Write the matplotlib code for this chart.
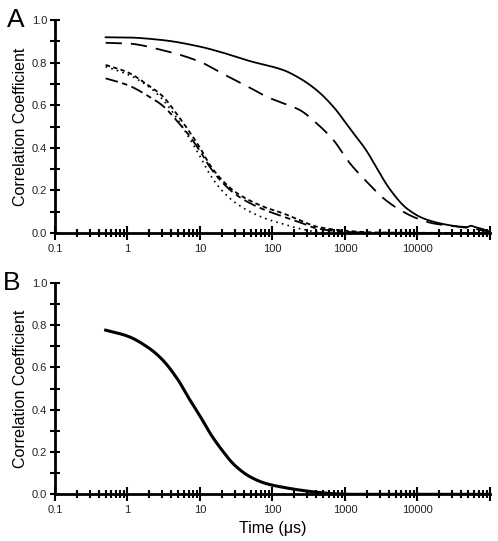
import numpy as np
import matplotlib
matplotlib.use("Agg")
import matplotlib.pyplot as plt
from matplotlib.ticker import LogLocator, FixedLocator, NullFormatter, FixedFormatter

plt.rcParams['font.family'] = ['Liberation Sans', 'DejaVu Sans']

# ---- Panel A data ----
solid_x = [0.5, 1, 3, 10, 20, 49, 141, 239, 406, 690, 1172, 1990, 2735, 4170, 7080, 12000, 22700, 38500, 48000, 55000, 62000, 80000, 100000]
solid_y = [0.919, 0.918, 0.906, 0.875, 0.848, 0.807, 0.765, 0.726, 0.671, 0.593, 0.49, 0.385, 0.305, 0.205, 0.116, 0.069, 0.042, 0.030, 0.028, 0.034, 0.028, 0.018, 0.005]

longdash_x = [0.5, 1, 3, 10, 20, 49, 83, 141, 239, 406, 690, 1172, 1990, 3390, 5760, 9790, 16600, 30000, 60000, 100000]
longdash_y = [0.893, 0.89, 0.859, 0.804, 0.75, 0.682, 0.64, 0.609, 0.577, 0.515, 0.437, 0.327, 0.241, 0.163, 0.108, 0.069, 0.045, 0.033, 0.02, 0.005]

lower_x = [0.5, 1, 2, 3, 5, 7, 10, 14, 20, 30, 49, 83, 141, 239, 406, 1070, 3000, 100000]
shortdash_y = [0.789, 0.755, 0.69, 0.645, 0.55, 0.48, 0.40, 0.315, 0.25, 0.195, 0.152, 0.118, 0.092, 0.06, 0.03, 0.01, 0.002, 0.0]
dotted_y = [0.781, 0.745, 0.685, 0.63, 0.53, 0.45, 0.36, 0.27, 0.20, 0.145, 0.10, 0.066, 0.042, 0.02, 0.006, 0.0, 0.0, 0.0]
dashdot_y = [0.726, 0.695, 0.64, 0.60, 0.52, 0.46, 0.385, 0.305, 0.24, 0.185, 0.14, 0.105, 0.077, 0.05, 0.022, 0.005, 0.001, 0.0]

# ---- Panel B data ----
b_x = [0.5, 1, 2, 3, 5, 7, 10, 14, 20, 30, 49, 83, 141, 239, 406, 690, 1200, 100000]
b_y = [0.776, 0.748, 0.69, 0.638, 0.54, 0.455, 0.37, 0.285, 0.21, 0.138, 0.083, 0.05, 0.033, 0.02, 0.01, 0.003, 0.0, 0.0]

x_ticks = [0.1, 1, 10, 100, 1000, 10000]
x_labels = ["0.1", "1", "10", "100", "1000", "10000"]
y_ticks = [0.0, 0.2, 0.4, 0.6, 0.8, 1.0]
y_labels = ["0.0", "0.2", "0.4", "0.6", "0.8", "1.0"]


def smooth(xs, ys, n=400):
    lx = np.log10(np.asarray(xs, float))
    yy = np.asarray(ys, float)
    grid = np.linspace(lx[0], lx[-1], n)
    h = np.diff(lx); d = np.diff(yy) / h
    m = np.zeros_like(yy)
    m[0] = d[0]; m[-1] = d[-1]
    for i in range(1, len(yy) - 1):
        if d[i - 1] * d[i] <= 0:
            m[i] = 0
        else:
            w1 = 2 * h[i] + h[i - 1]; w2 = h[i] + 2 * h[i - 1]
            m[i] = (w1 + w2) / (w1 / d[i - 1] + w2 / d[i])
    out = np.empty_like(grid)
    for k, g in enumerate(grid):
        i = np.searchsorted(lx, g) - 1
        i = min(max(i, 0), len(lx) - 2)
        t = (g - lx[i]) / h[i]
        h00 = 2*t**3 - 3*t**2 + 1; h10 = t**3 - 2*t**2 + t
        h01 = -2*t**3 + 3*t**2; h11 = t**3 - t**2
        out[k] = h00*yy[i] + h10*h[i]*m[i] + h01*yy[i+1] + h11*h[i]*m[i+1]
    return 10**grid, out


def style_axes(ax):
    ax.set_xscale('log')
    ax.set_xlim(0.1, 100000)
    ax.set_ylim(0, 1.0)
    for s in ['top', 'right']:
        ax.spines[s].set_visible(False)
    for s in ['left', 'bottom']:
        ax.spines[s].set_linewidth(2.0)
    ax.xaxis.set_major_locator(FixedLocator(x_ticks + [100000]))
    ax.xaxis.set_major_formatter(FixedFormatter(x_labels + [""]))
    ax.xaxis.set_minor_locator(LogLocator(base=10, subs=np.arange(2, 10), numticks=20))
    ax.xaxis.set_minor_formatter(NullFormatter())
    ax.yaxis.set_major_locator(FixedLocator(y_ticks))
    ax.yaxis.set_major_formatter(FixedFormatter(y_labels))
    ax.yaxis.set_minor_locator(FixedLocator([0.1, 0.3, 0.5, 0.7, 0.9]))
    ax.tick_params(axis='x', which='major', direction='inout', length=10, width=1.5,
                   labelsize=8, pad=3, labelcolor='#222222')
    ax.tick_params(axis='x', which='minor', direction='inout', length=6, width=1.5)
    ax.tick_params(axis='y', which='major', direction='inout', length=7, width=1.5,
                   labelsize=8, pad=2, labelcolor='#222222')
    ax.tick_params(axis='y', which='minor', direction='inout', length=7, width=1.5)
    ax.set_ylabel("Correlation Coefficient", fontsize=11.5, labelpad=3)


fig = plt.figure(figsize=(4.98, 5.41), dpi=100)
axA = fig.add_axes([0.1104, 0.5693, 0.8735, 0.3937])
axB = fig.add_axes([0.1104, 0.0863, 0.8735, 0.391])

for ax in (axA, axB):
    style_axes(ax)

x, y = smooth(solid_x, solid_y)
axA.plot(x, y, color='black', lw=1.3)
x, y = smooth(longdash_x, longdash_y)
axA.plot(x, y, color='black', lw=1.3, dashes=(9, 5))
x, y = smooth(lower_x, shortdash_y)
axA.plot(x, y, color='black', lw=1.3, dashes=(2.5, 1.8))
x, y = smooth(lower_x, dotted_y)
axA.plot(x, y, color='black', lw=1.2, dashes=(1, 2.5))
x, y = smooth(lower_x, dashdot_y)
axA.plot(x, y, color='black', lw=1.3, dashes=(7, 2.5, 3, 2.5))

x, y = smooth(b_x, b_y)
axB.plot(x, y, color='black', lw=2.2)

axB.set_xlabel("Time (\u03bcs)", fontsize=11.5, labelpad=4)

fig.text(0.014, 0.985, "A", fontsize=19, va='top', ha='left')
fig.text(0.006, 0.5, "B", fontsize=19, va='top', ha='left')

fig.savefig("out.png", dpi=100)
